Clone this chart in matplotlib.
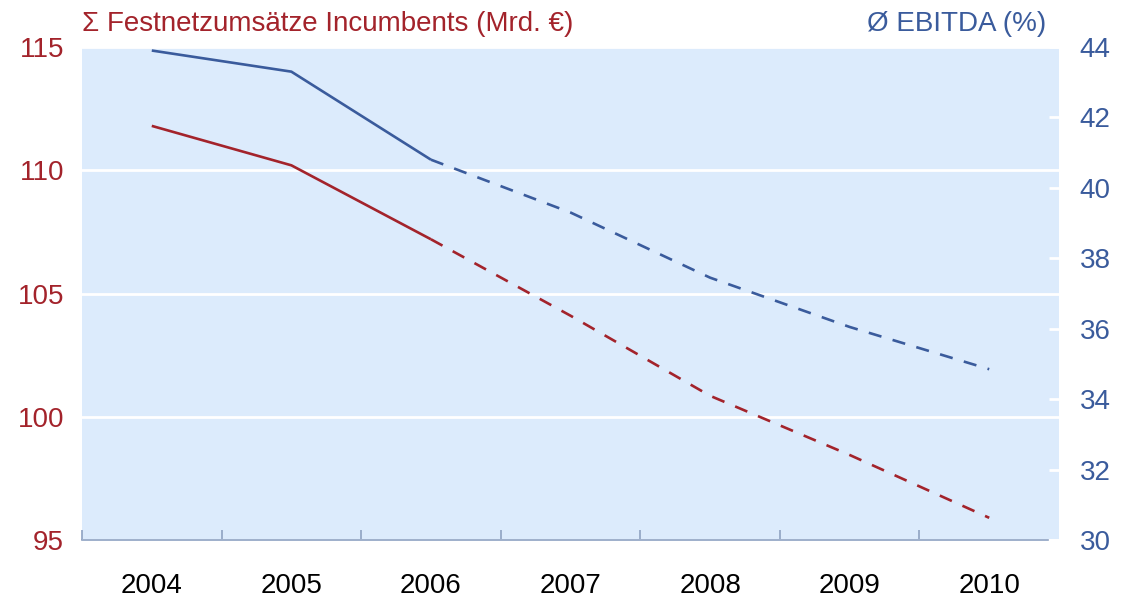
import matplotlib.pyplot as plt

plt.rcParams['font.family'] = ['Liberation Sans', 'DejaVu Sans']

# Data
years = ["2004", "2005", "2006", "2007", "2008", "2009", "2010"]
umsatz = [111.8, 110.2, 107.2, 104.1, 100.85, 98.45, 95.9]     # Mrd. EUR
ebitda = [43.9, 43.3, 40.8, 39.3, 37.45, 36.05, 34.85]          # %
n_actual = 3  # 2004-2006 actual (solid), rest forecast (dashed)

left_ticks = [95, 100, 105, 110, 115]
right_ticks = [30, 32, 34, 36, 38, 40, 42, 44]

RED = "#a3232b"
BLUE = "#3a5b9c"
BG = "#dcebfc"
AXC = "#8ea2c2"
FS = 20

fig = plt.figure(figsize=(11.25, 5.98), dpi=100)
ax = fig.add_axes([82 / 1125, 1 - 540 / 598, 977 / 1125, 493 / 598])
ax2 = ax.twinx()

x = list(range(len(years)))
dash = (0, (5.0, 4.4))

ax.plot(x[:n_actual], umsatz[:n_actual], color=RED, lw=1.9, solid_capstyle="butt")
ax.plot(x[n_actual - 1:], umsatz[n_actual - 1:], color=RED, lw=1.9, linestyle=dash)
ax2.plot(x[:n_actual], ebitda[:n_actual], color=BLUE, lw=1.9, solid_capstyle="butt")
ax2.plot(x[n_actual - 1:], ebitda[n_actual - 1:], color=BLUE, lw=1.9, linestyle=dash)

ax.set_facecolor(BG)
ax.set_xlim(-0.5, len(years) - 0.5)
ax.set_ylim(95, 115)
ax2.set_ylim(30, 44)
ax.set_yticks(left_ticks)
ax2.set_yticks(right_ticks)

ax.yaxis.grid(True, color="white", lw=2)
ax.set_axisbelow(True)

for a in (ax, ax2):
    for s in ("top", "left", "right"):
        a.spines[s].set_visible(False)
ax2.spines["bottom"].set_visible(False)
ax.spines["bottom"].set_color(AXC)
ax.spines["bottom"].set_linewidth(1.2)
ax.spines["bottom"].set_bounds(-0.5, len(years) - 0.58)

# category ticks on boundaries, labels centered
ax.set_xticks([i + 0.5 for i in range(len(years) - 1)] + [-0.5])
ax.set_xticklabels([])
ax.set_xticks(x, minor=True)
ax.set_xticklabels(years, minor=True, fontsize=FS)
ax.tick_params(axis="x", which="major", direction="in", length=7, color=AXC, width=1.2)
ax.tick_params(axis="x", which="minor", length=0, pad=24)

ax.tick_params(axis="y", length=0, labelsize=FS, labelcolor=RED, pad=13)
ax2.tick_params(axis="y", direction="in", length=7, width=2, color="white",
                labelsize=FS, labelcolor=BLUE, pad=15)

fig.text(82 / 1125, 1 - 24 / 598, "Σ Festnetzumsätze Incumbents (Mrd. €)",
         color=RED, fontsize=FS, ha="left", va="center")
fig.text(1046 / 1125, 1 - 24 / 598, "Ø EBITDA (%)",
         color=BLUE, fontsize=FS, ha="right", va="center")

fig.savefig("out.png", dpi=100)
